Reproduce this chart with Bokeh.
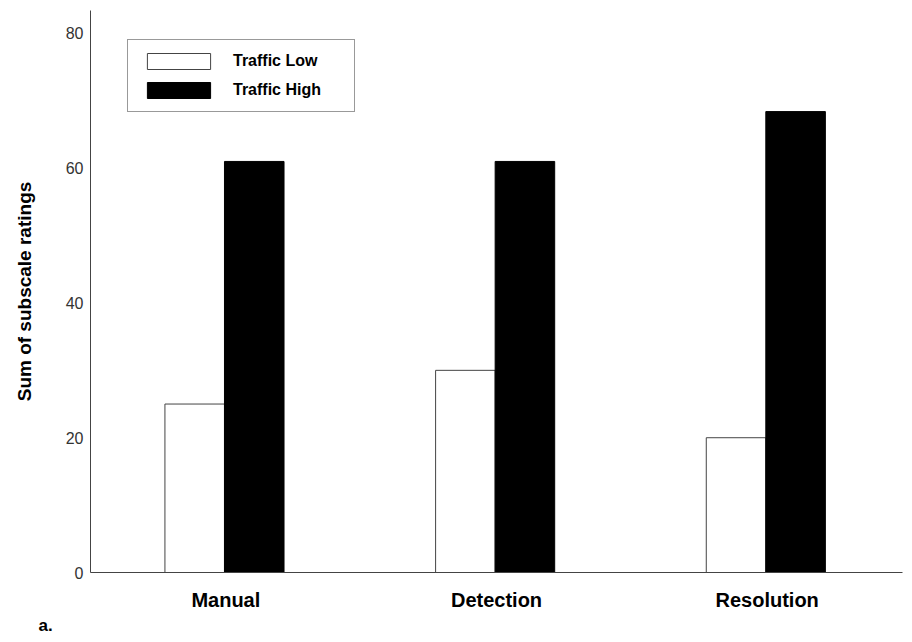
from bokeh.plotting import figure
from bokeh.models import ColumnDataSource, FactorRange, Range1d, Legend, LegendItem, Title
from bokeh.transform import dodge
from bokeh.embed import file_html
from bokeh.resources import INLINE

categories = ["Manual", "Detection", "Resolution"]
traffic_low = [25, 30, 20]
traffic_high = [61, 61, 68.4]
y_ticks = [0, 20, 40, 60, 80]

source = ColumnDataSource(data=dict(cat=categories, low=traffic_low, high=traffic_high))

FONT = "Liberation Sans"

p = figure(x_range=FactorRange(*categories), y_range=Range1d(0, 83.4),
           width=904, height=634, output_backend="svg", toolbar_location=None,
           min_border_left=90, min_border_right=2, min_border_top=10, min_border_bottom=61)

r_low = p.vbar(x=dodge("cat", -0.115, range=p.x_range), top="low", width=0.22, source=source,
               fill_color="white", line_color="#444444", line_width=1)
r_high = p.vbar(x=dodge("cat", 0.105, range=p.x_range), top="high", width=0.22, source=source,
                fill_color="black", line_color="black", line_width=1)

p.xgrid.visible = False
p.ygrid.visible = False
p.outline_line_color = None

p.yaxis.ticker = y_ticks
p.yaxis.major_tick_line_color = None
p.yaxis.major_tick_out = 0
p.yaxis.major_tick_in = 0
p.yaxis.minor_tick_line_color = None
p.yaxis.axis_line_color = "#444444"
p.yaxis.major_label_text_font = FONT
p.yaxis.major_label_text_font_size = "16px"
p.yaxis.major_label_text_color = "#333333"
p.yaxis.major_label_standoff = 7
p.yaxis.axis_label = "Sum of subscale ratings"
p.yaxis.axis_label_text_font = FONT
p.yaxis.axis_label_text_font_style = "bold"
p.yaxis.axis_label_text_font_size = "19px"
p.yaxis.axis_label_text_color = "black"
p.yaxis.axis_label_standoff = 28

p.xaxis.major_tick_line_color = None
p.xaxis.major_tick_out = 0
p.xaxis.major_tick_in = 0
p.xaxis.minor_tick_line_color = None
p.xaxis.axis_line_color = "#444444"
p.xaxis.major_label_text_font = FONT
p.xaxis.major_label_text_font_style = "bold"
p.xaxis.major_label_text_font_size = "20px"
p.xaxis.major_label_text_color = "black"
p.xaxis.major_label_standoff = 16

legend = Legend(items=[LegendItem(label="Traffic Low", renderers=[r_low]),
                       LegendItem(label="Traffic High", renderers=[r_high])],
                location=(37, 460), orientation="vertical")
legend.glyph_width = 79
legend.glyph_height = 20
legend.label_height = 20
legend.label_width = 110
legend.label_standoff = 15
legend.spacing = 9
legend.padding = 11
legend.margin = 0
legend.border_line_color = "#333333"
legend.label_text_font = FONT
legend.label_text_font_style = "bold"
legend.label_text_font_size = "16px"
legend.label_text_color = "black"
legend.background_fill_alpha = 1
p.add_layout(legend, "center")

tag = Title(text="a.", align="left", offset=-52, standoff=0,
            text_font=FONT, text_font_style="bold", text_font_size="17px", text_color="black")
p.add_layout(tag, "below")

open("out.html", "w").write(file_html(p, INLINE))
